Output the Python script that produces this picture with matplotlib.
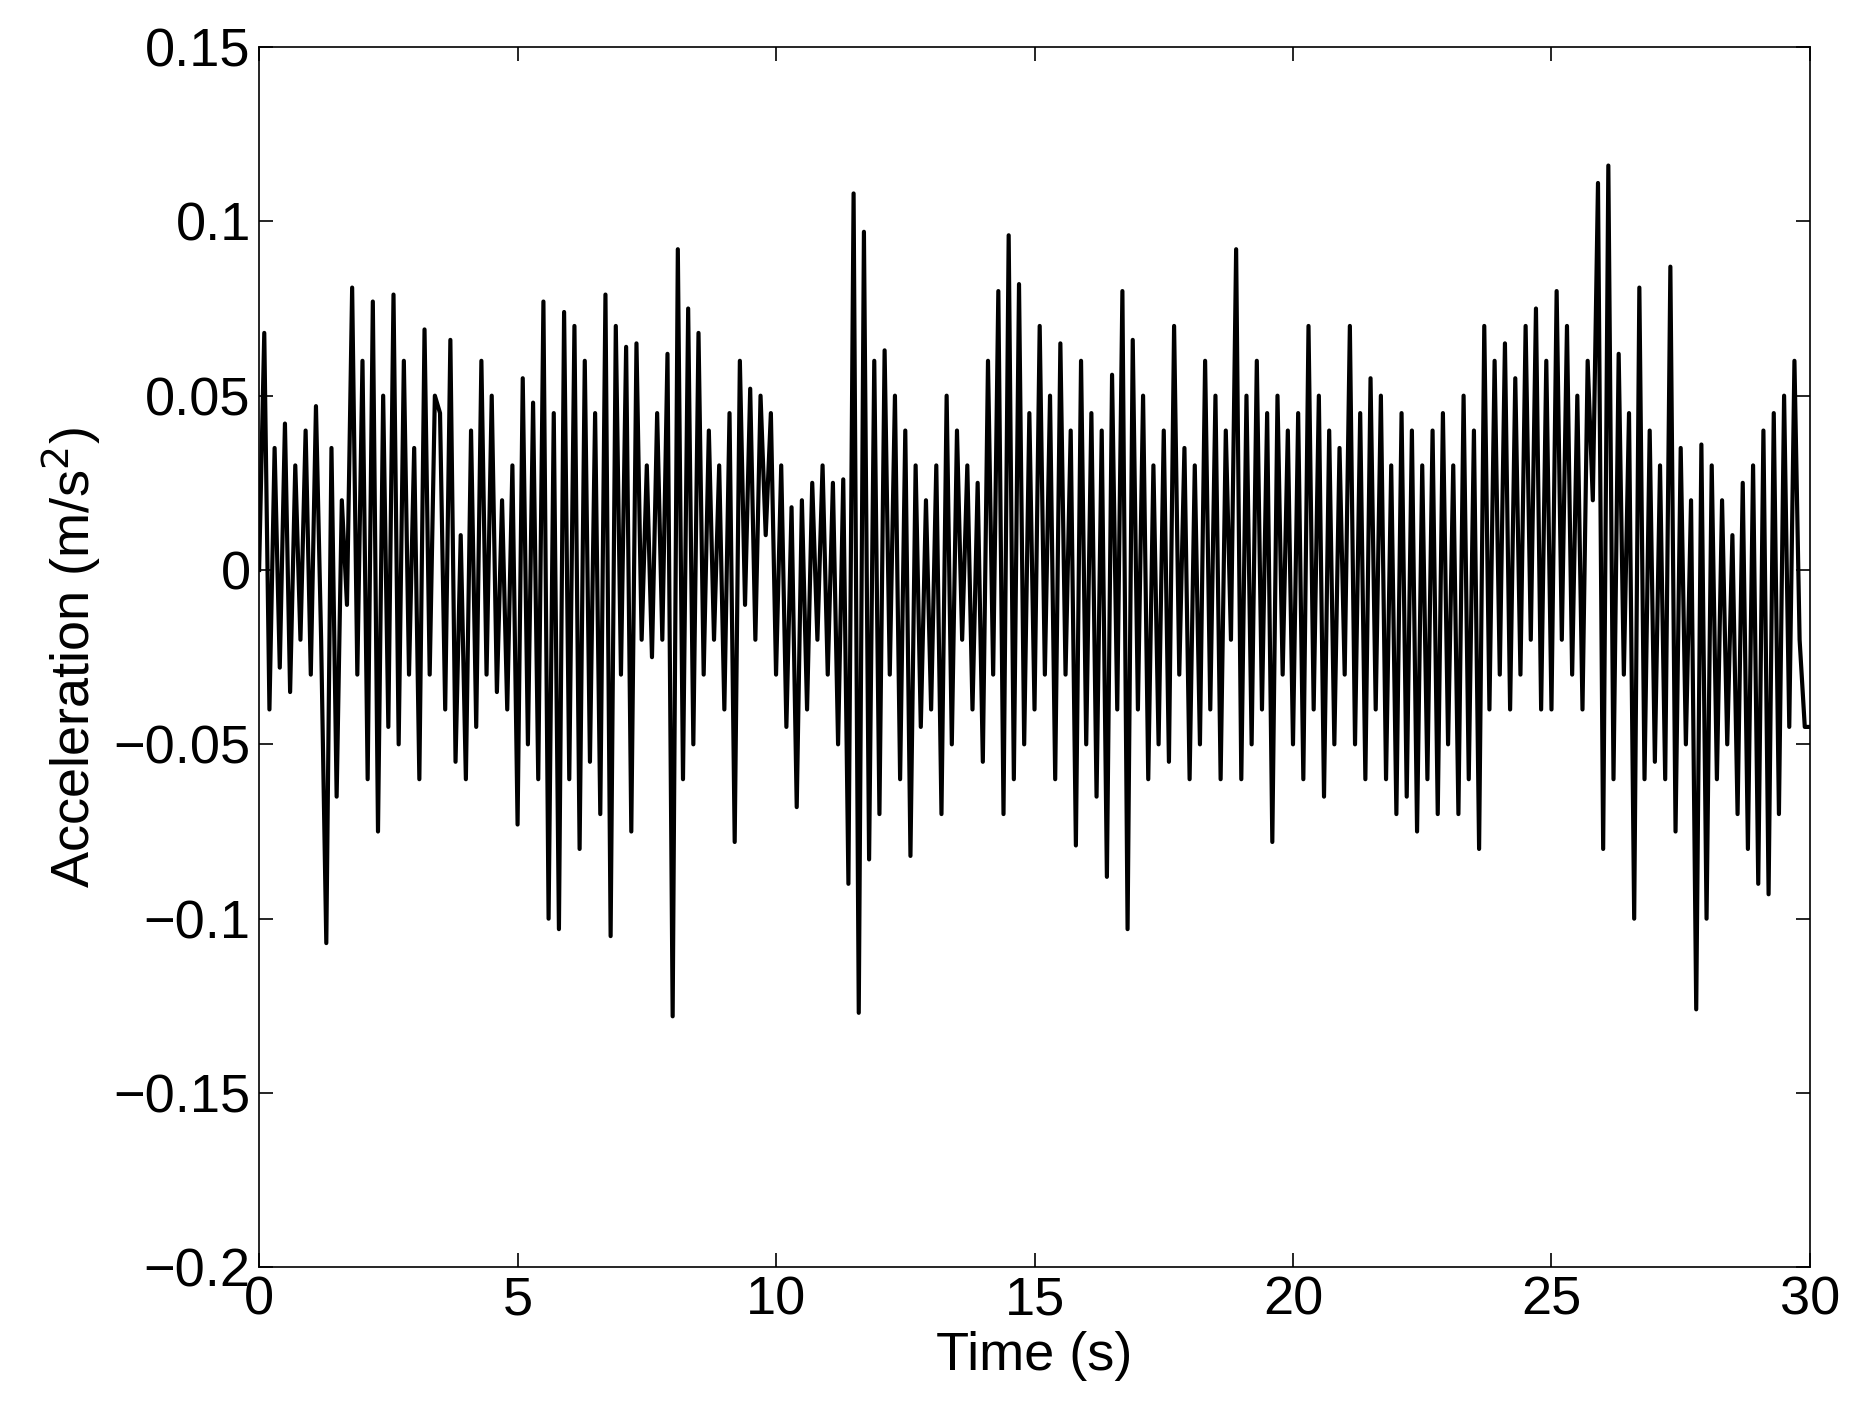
import numpy as np
import matplotlib
matplotlib.use("Agg")
import matplotlib.pyplot as plt

plt.rcParams["font.family"] = ["Liberation Sans", "DejaVu Sans"]

# acceleration samples, 0.1 s apart
accel = [
    0.0, 0.068, -0.04, 0.035, -0.028, 0.042, -0.035, 0.03, -0.02, 0.04,
    -0.03, 0.047, -0.02, -0.107, 0.035, -0.065, 0.02, -0.01, 0.081, -0.03,
    0.06, -0.06, 0.077, -0.075, 0.05, -0.045, 0.079, -0.05, 0.06, -0.03,
    0.035, -0.06, 0.069, -0.03, 0.05, 0.045, -0.04, 0.066, -0.055, 0.01,
    -0.06, 0.04, -0.045, 0.06, -0.03, 0.05, -0.035, 0.02, -0.04, 0.03,
    -0.073, 0.055, -0.05, 0.048, -0.06, 0.077, -0.1, 0.045, -0.103, 0.074,
    -0.06, 0.07, -0.08, 0.06, -0.055, 0.045, -0.07, 0.079, -0.105, 0.07,
    -0.03, 0.064, -0.075, 0.065, -0.02, 0.03, -0.025, 0.045, -0.02, 0.062,
    -0.128, 0.092, -0.06, 0.075, -0.05, 0.068, -0.03, 0.04, -0.02, 0.03,
    -0.04, 0.045, -0.078, 0.06, -0.01, 0.052, -0.02, 0.05, 0.01, 0.045,
    -0.03, 0.03, -0.045, 0.018, -0.068, 0.02, -0.04, 0.025, -0.02, 0.03,
    -0.03, 0.025, -0.05, 0.026, -0.09, 0.108, -0.127, 0.097, -0.083, 0.06,
    -0.07, 0.063, -0.03, 0.05, -0.06, 0.04, -0.082, 0.03, -0.045, 0.02,
    -0.04, 0.03, -0.07, 0.05, -0.05, 0.04, -0.02, 0.03, -0.04, 0.025,
    -0.055, 0.06, -0.03, 0.08, -0.07, 0.096, -0.06, 0.082, -0.05, 0.045,
    -0.04, 0.07, -0.03, 0.05, -0.06, 0.065, -0.03, 0.04, -0.079, 0.06,
    -0.05, 0.045, -0.065, 0.04, -0.088, 0.056, -0.04, 0.08, -0.103, 0.066,
    -0.04, 0.05, -0.06, 0.03, -0.05, 0.04, -0.055, 0.07, -0.03, 0.035,
    -0.06, 0.03, -0.05, 0.06, -0.04, 0.05, -0.06, 0.04, -0.02, 0.092,
    -0.06, 0.05, -0.05, 0.06, -0.04, 0.045, -0.078, 0.05, -0.03, 0.04,
    -0.05, 0.045, -0.06, 0.07, -0.04, 0.05, -0.065, 0.04, -0.05, 0.035,
    -0.03, 0.07, -0.05, 0.045, -0.06, 0.055, -0.04, 0.05, -0.06, 0.03,
    -0.07, 0.045, -0.065, 0.04, -0.075, 0.03, -0.06, 0.04, -0.07, 0.045,
    -0.05, 0.03, -0.07, 0.05, -0.06, 0.04, -0.08, 0.07, -0.04, 0.06,
    -0.03, 0.065, -0.04, 0.055, -0.03, 0.07, -0.02, 0.075, -0.04, 0.06,
    -0.04, 0.08, -0.02, 0.07, -0.03, 0.05, -0.04, 0.06, 0.02, 0.111,
    -0.08, 0.116, -0.06, 0.062, -0.03, 0.045, -0.1, 0.081, -0.06, 0.04,
    -0.055, 0.03, -0.06, 0.087, -0.075, 0.035, -0.05, 0.02, -0.126, 0.036,
    -0.1, 0.03, -0.06, 0.02, -0.05, 0.01, -0.07, 0.025, -0.08, 0.03,
    -0.09, 0.04, -0.093, 0.045, -0.07, 0.05, -0.045, 0.06, -0.02, -0.045,
    -0.045,
]
time = np.linspace(0, 30, len(accel))

x_ticks = [0, 5, 10, 15, 20, 25, 30]
y_ticks = [-0.2, -0.15, -0.1, -0.05, 0, 0.05, 0.1, 0.15]
y_labels = ["\u22120.2", "\u22120.15", "\u22120.1", "\u22120.05", "0", "0.05", "0.1", "0.15"]

fig = plt.figure(figsize=(18.64, 14.24), dpi=100)
ax = fig.add_axes([0.139, 0.11, 0.832, 0.857])
ax.plot(time, accel, color="black", linewidth=3.0)
ax.set_xlim(0, 30)
ax.set_ylim(-0.2, 0.15)
ax.set_xticks(x_ticks)
ax.set_yticks(y_ticks)
ax.set_yticklabels(y_labels)
ax.tick_params(direction="in", top=True, right=True, labelsize=39, length=10, width=1.2, pad=6)
for s in ax.spines.values():
    s.set_linewidth(1.2)
ax.set_xlabel("Time (s)", fontsize=39, labelpad=4)
ax.set_ylabel("Acceleration (m/s$^2$)", fontsize=39, labelpad=8)
fig.savefig("out.png", dpi=100)
